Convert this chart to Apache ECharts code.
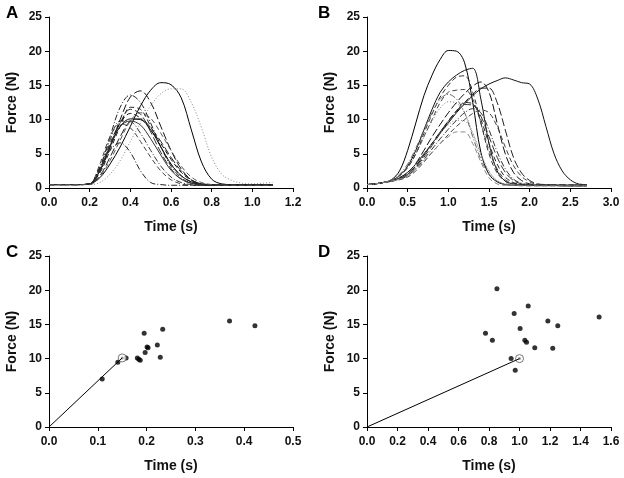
<!DOCTYPE html>
<html lang="en">
<head>
<meta charset="UTF-8" />
<title>Force (N) vs Time (s)</title>
<script src="https://cdn.jsdelivr.net/npm/echarts@6/dist/echarts.min.js"></script>
<style>
  html, body { margin: 0; padding: 0; background: #fff; }
  #chart { width: 624px; height: 478px; }
</style>
</head>
<body>
<div id="chart"></div>
<script>
// ---- panel A : force traces, short pulses ----
var timesA = [0, 0.05, 0.1, 0.15, 0.2, 0.25, 0.3, 0.35, 0.4, 0.45,
              0.5, 0.55, 0.6, 0.65, 0.7, 0.75, 0.8, 0.85, 0.9, 0.95,
              1.0, 1.05, 1.1];
var forceA1 = [0.5,0.5,0.5,0.5,0.6,1.5,3.5,6.0,9.0,12.0, 14.3,15.4,15.1,13.2,8.5,3.8,1.3,0.6,0.5,0.5, 0.5,0.5,0.5];
var forceA2 = [0.5,0.5,0.5,0.5,0.5,0.8,2.0,4.0,6.8,9.5, 12.0,13.8,14.5,14.5,12.5,8.8,4.5,2.0,1.1,0.7, 0.6,0.7,0.8];
var forceA3 = [0.5,0.5,0.5,0.5,0.6,2.5,6.0,10.0,13.3,14.2, 12.5,9.0,5.5,2.8,1.2,0.6,0.5,0.4,0.4,0.4, 0.4,0.4,0.4];
var forceA4 = [0.5,0.5,0.5,0.5,0.6,3.0,7.5,11.8,13.6,12.5, 9.5,6.0,3.2,1.5,0.7,0.5,0.4,0.4,0.4,0.4, 0.4,0.4,0.4];
var forceA5 = [0.5,0.5,0.5,0.5,0.6,2.2,5.5,9.0,11.8,11.5, 9.0,6.0,3.5,1.8,0.9,0.5,0.4,0.4,0.4,0.4, 0.4,0.4,0.4];
var forceA6 = [0.5,0.5,0.5,0.5,0.6,2.5,6.0,9.5,11.5,10.8, 8.2,5.2,2.8,1.3,0.7,0.5,0.4,0.4,0.4,0.4, 0.4,0.4,0.4];
var forceA7 = [0.5,0.5,0.5,0.5,0.6,2.8,6.5,9.5,10.9,10.2, 8.5,6.5,4.2,2.3,1.1,0.6,0.5,0.5,0.4,0.4, 0.4,0.4,0.4];
var forceA8 = [0.5,0.5,0.5,0.5,0.6,2.5,6.0,9.0,10.1,10.0, 8.5,6.0,3.5,1.8,0.9,0.5,0.4,0.4,0.4,0.4, 0.4,0.4,0.4];
var forceA9 = [0.5,0.5,0.5,0.5,0.6,3.0,7.0,9.8,9.7,8.0, 5.5,3.2,1.6,0.8,0.5,0.4,0.4,0.4,0.4,0.4, 0.4,0.4,0.4];
var forceA10 = [0.5,0.5,0.5,0.5,0.6,3.5,7.5,9.4,8.8,6.8, 4.5,2.5,1.2,0.6,0.4,0.4,0.4,0.4,0.4,0.4, 0.4,0.4,0.4];
var forceA11 = [0.5,0.5,0.5,0.5,0.6,3.0,5.5,6.6,5.2,2.5, 0.8,0.5,0.4,0.4,0.4,0.4,0.4,0.4,0.4,0.4, 0.4,0.4,0.4];
var forceA12 = [0.5,0.5,0.5,0.5,0.6,1.8,4.5,7.5,9.8,10.1, 8.8,6.8,4.5,2.5,1.2,0.6,0.5,0.4,0.4,0.4, 0.4,0.4,0.4];
var forceA13 = [0.5,0.5,0.5,0.5,0.6,2.6,6.2,9.0,9.8,9.2, 7.2,4.8,2.6,1.3,0.7,0.5,0.4,0.4,0.4,0.4, 0.4,0.4,0.4];
var forceA14 = [0.5,0.5,0.5,0.5,0.5,1.6,4.0,7.0,9.8,11.0, 10.2,8.0,5.5,3.2,1.6,0.8,0.5,0.4,0.4,0.4, 0.4,0.4,0.4];

// ---- panel B : force traces, slow pulses ----
var timesB = [0, 0.1, 0.2, 0.3, 0.4, 0.5, 0.6, 0.7, 0.8, 0.9,
              1.0, 1.1, 1.2, 1.3, 1.4, 1.5, 1.6, 1.7, 1.8, 1.9,
              2.0, 2.1, 2.2, 2.3, 2.4, 2.5, 2.6, 2.7];
var forceB1 = [0.5,0.6,0.8,1.2,2.5,5.5,9.5,13.5,16.5,18.8, 20.1,20.0,18.3,12.5,5.2,2.0,0.9,0.5,0.4,0.4, 0.4,0.4,0.4,0.4,0.3,0.3,0.3,0.3];
var forceB2 = [0.5,0.6,0.8,1.1,1.8,3.2,5.5,8.5,11.5,14.0, 15.5,16.5,17.2,17.5,13.0,6.5,2.5,1.0,0.6,0.5, 0.4,0.4,0.4,0.4,0.4,0.4,0.4,0.4];
var forceB3 = [0.5,0.6,0.8,1.1,1.8,3.0,5.0,8.0,10.8,13.3, 15.0,16.2,16.4,14.0,9.5,5.0,2.2,1.0,0.6,0.5, 0.4,0.4,0.4,0.4,0.4,0.3,0.3,0.3];
var forceB4 = [0.5,0.6,0.8,1.0,1.5,2.3,3.5,5.0,6.5,8.0, 9.5,11.0,12.3,13.5,14.5,15.2,15.7,16.1,15.8,15.4, 15.2,13.0,9.0,5.0,2.5,1.2,0.6,0.5];
var forceB5 = [0.5,0.6,0.8,1.0,1.4,2.0,3.2,4.8,6.5,8.2, 9.8,11.2,12.5,13.7,14.6,14.6,12.5,8.5,4.5,2.2, 1.1,0.6,0.5,0.4,0.4,0.4,0.4,0.4];
var forceB6 = [0.5,0.6,0.8,1.0,1.5,2.2,3.6,5.5,7.5,9.3, 11.0,12.5,13.8,14.9,15.5,14.0,9.5,5.0,2.3,1.1, 0.6,0.5,0.4,0.4,0.4,0.4,0.4,0.4];
var forceB7 = [0.5,0.6,0.8,1.1,1.8,3.0,5.0,7.5,10.0,12.5, 14.0,14.3,14.4,13.0,9.5,5.5,2.8,1.2,0.7,0.5, 0.4,0.4,0.4,0.4,0.4,0.4,0.4,0.4];
var forceB8 = [0.5,0.6,0.8,1.2,2.0,3.5,5.8,8.5,11.0,13.0, 13.7,13.0,11.0,7.5,4.2,2.0,1.0,0.6,0.5,0.4, 0.4,0.4,0.4,0.4,0.4,0.4,0.4,0.4];
var forceB9 = [0.5,0.6,0.8,1.1,1.8,3.0,5.0,7.5,9.8,11.7, 12.6,12.4,11.0,8.0,4.8,2.4,1.1,0.6,0.5,0.4, 0.4,0.3,0.3,0.3,0.3,0.3,0.3,0.3];
var forceB10 = [0.5,0.6,0.8,1.0,1.4,2.0,3.2,4.8,6.5,8.2, 9.8,11.3,12.5,12.3,10.0,6.5,3.5,1.6,0.8,0.5, 0.4,0.4,0.4,0.4,0.4,0.4,0.4,0.4];
var forceB11 = [0.5,0.6,0.8,1.0,1.3,1.8,3.0,4.5,6.2,8.0, 9.7,11.2,12.2,12.1,10.5,7.5,4.5,2.3,1.1,0.6, 0.4,0.4,0.4,0.4,0.4,0.4,0.4,0.4];
var forceB12 = [0.5,0.6,0.8,1.0,1.3,1.8,2.8,4.2,5.7,7.2, 8.6,9.9,11.0,11.6,11.0,8.5,5.3,2.8,1.3,0.7, 0.5,0.4,0.4,0.4,0.4,0.4,0.4,0.4];
var forceB13 = [0.5,0.6,0.8,1.0,1.2,1.6,2.5,3.8,5.2,6.5, 7.8,9.0,10.0,10.9,11.4,11.0,9.0,6.0,3.3,1.7, 0.9,0.5,0.4,0.4,0.4,0.4,0.4,0.4];
var forceB14 = [0.5,0.6,0.8,1.0,1.5,2.2,3.5,5.0,6.5,8.0, 9.2,9.9,9.8,8.0,5.0,2.5,1.0,0.5,0.4,0.4, 0.3,0.3,0.3,0.3,0.3,0.3,0.3,0.3];
var forceB15 = [0.5,0.6,0.8,1.0,1.3,1.8,2.8,4.0,5.2,6.5, 7.5,8.2,8.2,6.5,3.8,1.5,0.6,0.4,0.4,0.3, 0.3,0.3,0.3,0.3,0.3,0.3,0.3,0.3];

// ---- panel C / D : peak force vs time to peak ----
var cTime  = [0.109, 0.141, 0.158, 0.181, 0.184, 0.187, 0.195, 0.197, 0.201, 0.203, 0.222, 0.228, 0.233, 0.370, 0.422];
var cForce = [7.0, 9.45, 10.1, 10.1, 9.9, 9.75, 13.7, 10.9, 11.7, 11.6, 12.0, 10.2, 14.3, 15.5, 14.8];
var cMean  = [0.15, 10.1];

var dTime  = [0.777, 0.822, 0.852, 0.945, 0.965, 0.972, 1.004, 1.035, 1.046, 1.057, 1.100, 1.186, 1.218, 1.251, 1.522];
var dForce = [13.7, 12.7, 20.2, 10.0, 16.6, 8.3, 14.4, 12.7, 12.4, 17.7, 11.6, 15.5, 11.5, 14.8, 16.1];
var dMean  = [1.0, 10.0];

var tracesA = [forceA1, forceA2, forceA3, forceA4, forceA5, forceA6, forceA7,
               forceA8, forceA9, forceA10, forceA11, forceA12, forceA13, forceA14];
var tracesB = [forceB1, forceB2, forceB3, forceB4, forceB5, forceB6, forceB7, forceB8,
               forceB9, forceB10, forceB11, forceB12, forceB13, forceB14, forceB15];

// line looks, one per trace (dash pattern, colour)
var dashes = {
  solid: 'solid',
  dash: [5, 3],
  longdash: [8, 3],
  dashdot: [6, 2, 1, 2],
  dot: [1, 2]
};
var looksA = [
  ['solid', '#000'], ['dot', '#888'], ['longdash', '#111'], ['dashdot', '#222'],
  ['dash', '#222'], ['longdash', '#333'], ['dash', '#111'], ['solid', '#111'],
  ['dashdot', '#333'], ['dash', '#444'], ['dashdot', '#222'], ['longdash', '#222'],
  ['solid', '#333'], ['dash', '#555']
];
var looksB = [
  ['solid', '#000'], ['solid', '#111'], ['dash', '#333'], ['solid', '#111'],
  ['longdash', '#222'], ['longdash', '#111'], ['dash', '#444'], ['dashdot', '#666'],
  ['dot', '#777'], ['dash', '#222'], ['longdash', '#333'], ['dashdot', '#333'],
  ['dash', '#444'], ['dot', '#888'], ['dash', '#888']
];

function zip(xs, ys) {
  var out = [];
  for (var i = 0; i < xs.length && i < ys.length; i++) out.push([xs[i], ys[i]]);
  return out;
}

var font = 'Liberation Sans';
var grids = [
  { left: 49, top: 17, width: 244, height: 171 },
  { left: 367, top: 17, width: 244, height: 171 },
  { left: 49, top: 256, width: 244, height: 171 },
  { left: 367, top: 256, width: 244, height: 171 }
];

function xAxis(g, max, step) {
  return {
    type: 'value', gridIndex: g, min: 0, max: max, interval: step,
    name: 'Time (s)', nameLocation: 'middle', nameGap: 32,
    nameTextStyle: { fontFamily: font, fontWeight: 'bold', fontSize: 14, color: '#111' },
    axisLine: { show: true, onZero: false, lineStyle: { color: '#000', width: 1 } },
    axisTick: { show: true, length: 4, lineStyle: { color: '#000' } },
    axisLabel: {
      fontFamily: font, fontWeight: 'bold', fontSize: 12, color: '#111', margin: 9,
      formatter: function (v) { return v.toFixed(1); }
    },
    splitLine: { show: false }
  };
}
function yAxis(g) {
  return {
    type: 'value', gridIndex: g, min: 0, max: 25, interval: 5,
    name: 'Force (N)', nameLocation: 'middle', nameGap: 30,
    nameTextStyle: { fontFamily: font, fontWeight: 'bold', fontSize: 14, color: '#111' },
    axisLine: { show: true, onZero: false, lineStyle: { color: '#000', width: 1 } },
    axisTick: { show: true, length: 4, lineStyle: { color: '#000' } },
    axisLabel: { fontFamily: font, fontWeight: 'bold', fontSize: 12, color: '#111', margin: 7 },
    splitLine: { show: false }
  };
}

var series = [];
function addTraces(traces, looks, times, g) {
  traces.forEach(function (vals, i) {
    series.push({
      type: 'line', xAxisIndex: g, yAxisIndex: g,
      data: zip(times, vals), smooth: 0.35, symbol: 'none', silent: true,
      lineStyle: { width: 1, color: looks[i][1], type: dashes[looks[i][0]] }
    });
  });
}
addTraces(tracesA, looksA, timesA, 0);
addTraces(tracesB, looksB, timesB, 1);

function addScatter(xs, ys, mean, g) {
  series.push({
    type: 'line', xAxisIndex: g, yAxisIndex: g, symbol: 'none', silent: true,
    data: [[0, 0], mean], lineStyle: { width: 1, color: '#000' }
  });
  series.push({
    type: 'scatter', xAxisIndex: g, yAxisIndex: g, symbol: 'circle', symbolSize: 5,
    data: zip(xs, ys), itemStyle: { color: '#000' }, silent: true
  });
  series.push({
    type: 'scatter', xAxisIndex: g, yAxisIndex: g, symbol: 'circle', symbolSize: 8,
    data: [mean], itemStyle: { color: '#fff', borderColor: '#555', borderWidth: 1 }, silent: true
  });
  series.push({
    type: 'scatter', xAxisIndex: g, yAxisIndex: g, symbol: 'circle', symbolSize: 3,
    data: [mean], itemStyle: { color: '#888' }, silent: true
  });
}
addScatter(cTime, cForce, cMean, 2);
addScatter(dTime, dForce, dMean, 3);

function letter(txt, x, y) {
  return { type: 'text', left: x, top: y, style: { text: txt, font: 'bold 17px ' + font, fill: '#000' } };
}

var chart = echarts.init(document.getElementById('chart'), null, { renderer: 'canvas' });
chart.setOption({
  animation: false,
  backgroundColor: '#fff',
  grid: grids,
  xAxis: [xAxis(0, 1.2, 0.2), xAxis(1, 3, 0.5), xAxis(2, 0.5, 0.1), xAxis(3, 1.6, 0.2)],
  yAxis: [yAxis(0), yAxis(1), yAxis(2), yAxis(3)],
  series: series,
  graphic: [letter('A', 6, 5), letter('B', 318, 5), letter('C', 6, 244), letter('D', 318, 244)]
});
</script>
</body>
</html>
